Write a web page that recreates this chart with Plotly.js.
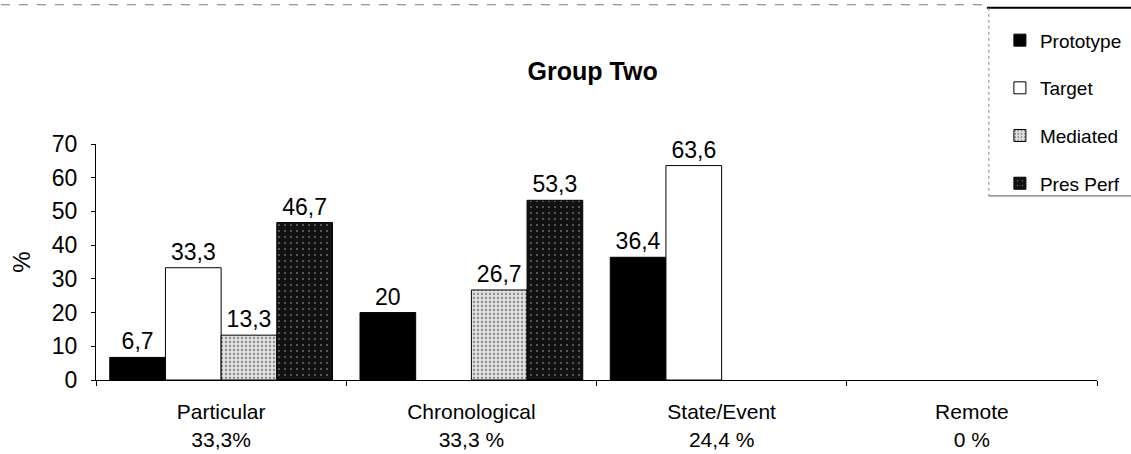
<!DOCTYPE html>
<html>
<head>
<meta charset="utf-8">
<script src="https://cdn.plot.ly/plotly-3.0.1.min.js"></script>
<style>html,body{margin:0;padding:0;background:#fff;}#chart{width:1131px;height:454px;}</style>
</head>
<body>
<div id="chart"></div>
<script>
const categories = ["Particular<br>33,3%", "Chronological<br>33,3 %", "State/Event<br>24,4 %", "Remote<br>0 %"];
const seriesNames = ["Prototype", "Target", "Mediated", "Pres Perf"];
const prototype = [6.7, 20, 36.4, 0];
const target = [33.3, 0, 63.6, 0];
const mediated = [13.3, 26.7, 0, 0];
const presPerf = [46.7, 53.3, 0, 0];
const yTicks = [0, 10, 20, 30, 40, 50, 60, 70];

const fnt = "Liberation Sans, Arial, sans-serif";
const fmt = v => v === 0 ? "" : String(v).replace(".", ",");

const styles = [
  {color: "#000000"},
  {color: "#ffffff"},
  {color: "#d6d6d6", pattern: {shape: ".", fgcolor: "#8a8a8a", bgcolor: "#e0e0e0", size: 4, solidity: 0.25}},
  {color: "#161616", pattern: {shape: ".", fgcolor: "#707070", bgcolor: "#121212", size: 6, solidity: 0.08}}
];
const allSeries = [prototype, target, mediated, presPerf];

const traces = allSeries.map((vals, i) => ({
  type: "bar",
  name: seriesNames[i],
  x: categories,
  y: vals.map(v => v === 0 ? null : v),
  text: vals.map(fmt),
  textposition: "outside",
  textfont: {family: fnt, size: 23, color: "#000"},
  cliponaxis: false,
  legendgroup: "g" + i,
  marker: Object.assign({line: {color: "#000", width: 1}}, styles[i]),
  hoverinfo: "none"
}));

const layout = {
  width: 1131, height: 454,
  margin: {l: 96, r: 34, t: 144, b: 74, autoexpand: false},
  paper_bgcolor: "#fff", plot_bgcolor: "#fff",
  font: {family: fnt, color: "#000"},
  barmode: "group",
  bargap: 0.11,
  bargroupgap: 0,
  title: {text: "<b>Group Two</b>", font: {family: fnt, size: 25, color: "#000"}, x: 0.524, xanchor: "center", y: 0.843, yanchor: "middle"},
  xaxis: {
    showline: true, linecolor: "#000", linewidth: 1,
    ticks: "outside", ticklen: 5, tickcolor: "#000", tickson: "boundaries",
    ticklabelstandoff: 13,
    tickfont: {family: fnt, size: 21, color: "#000"},
    showgrid: false, zeroline: false, fixedrange: true
  },
  yaxis: {
    range: [0, 70], tickvals: yTicks, ticktext: yTicks.map(String),
    showline: true, linecolor: "#000", linewidth: 1,
    ticks: "outside", ticklen: 4, tickcolor: "#000",
    ticklabelstandoff: 9,
    tickfont: {family: fnt, size: 23, color: "#000"},
    showgrid: false, zeroline: false, fixedrange: true,
    title: {text: "%", font: {family: fnt, size: 24, color: "#000"}, standoff: 14}
  },
  showlegend: true,
  legend: {
    x: 0.903, xanchor: "left", y: 1.52, yanchor: "top",
    font: {family: fnt, size: 19, color: "#000"},
    tracegroupgap: 20, traceorder: "grouped",
    bgcolor: "rgba(0,0,0,0)", borderwidth: 0
  },
  shapes: [
    {type: "line", xref: "paper", yref: "paper", x0: -0.095, x1: 0.89, y0: 1.59, y1: 1.59, line: {color: "#777", width: 1, dash: "dash"}},
    {type: "line", xref: "paper", yref: "paper", x0: 0.89, x1: 1.034, y0: 1.577, y1: 1.577, line: {color: "#000", width: 2}},
    {type: "line", xref: "paper", yref: "paper", x0: 0.892, x1: 0.892, y0: 1.577, y1: 0.78, line: {color: "#888", width: 1, dash: "dot"}},
    {type: "line", xref: "paper", yref: "paper", x0: 0.892, x1: 1.034, y0: 0.78, y1: 0.78, line: {color: "#555", width: 1}}
  ]
};

Plotly.newPlot("chart", traces, layout, {displayModeBar: false, staticPlot: true});
</script>
</body>
</html>
